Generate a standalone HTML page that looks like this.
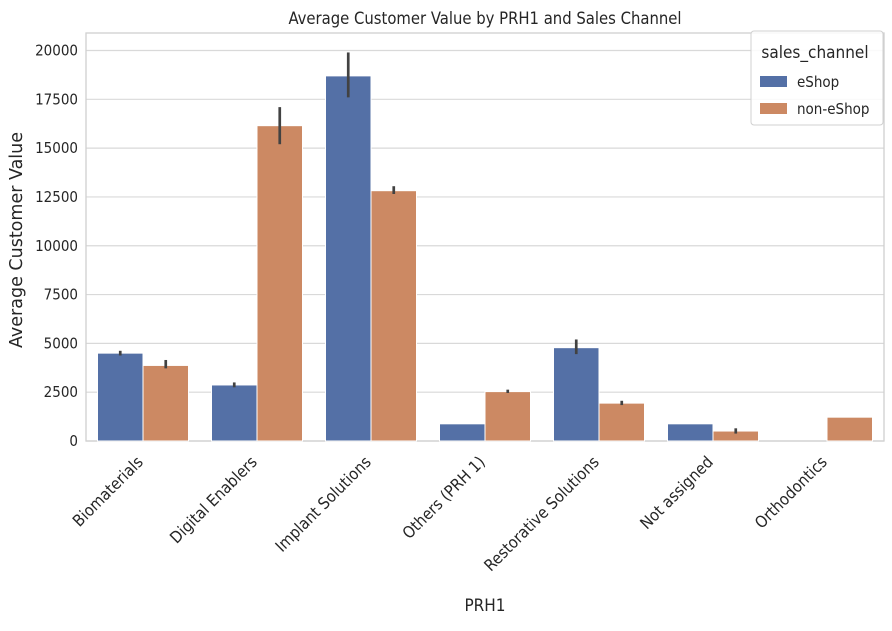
<!DOCTYPE html>
<html><head><meta charset="utf-8"><style>
body{margin:0;background:#fff;}
svg text{font-family:"DejaVu Sans Condensed","Liberation Sans Narrow","Liberation Sans",sans-serif;fill:#262626;}
</style></head><body>
<svg id="chart" width="892" height="626" xmlns="http://www.w3.org/2000/svg"></svg>
<script>
const categories=["Biomaterials","Digital Enablers","Implant Solutions","Others (PRH 1)","Restorative Solutions","Not assigned","Orthodontics"];
const eshopValues=[4500,2870,18700,880,4780,880,0];
const eshopLow=[4380,2750,17600,880,4450,880,0];
const eshopHigh=[4620,3000,19900,880,5200,880,0];
const nonValues=[3870,16150,12820,2530,1940,510,1220];
const nonLow=[3720,15200,12650,2460,1840,380,1220];
const nonHigh=[4150,17100,13050,2630,2060,650,1220];
const yTicks=[0,2500,5000,7500,10000,12500,15000,17500,20000];
const L=86,R=884,T=33,B=441;
const ns="http://www.w3.org/2000/svg";
const svg=document.getElementById('chart');
function y(v){return B-(v/20000)*390.5;}
const band=(R-L)/categories.length;
function x(i){return L+band*i+band/2;}
function mk(t,a,p){const e=document.createElementNS(ns,t);for(const k in a)e.setAttribute(k,a[k]);(p||svg).appendChild(e);return e;}
yTicks.forEach(v=>{
 const g=mk('line',{x1:L,x2:R,y1:y(v),y2:y(v),stroke:'#d9d9d9','stroke-width':1.2});
 
 
 const t=mk('text',{x:L-8,y:y(v)+5,'text-anchor':'end','font-size':15});
 t.textContent=v;
 
 
});
const frame=mk('rect',{x:L,y:T,width:R-L,height:B-T,fill:'none',stroke:'#d0d0d0','stroke-width':1.3});


const bw=45.5;
function bar(i,v,lo,hi,dx,color,name){
 const r=mk('rect',{x:x(i)+dx,y:y(v),width:bw,height:B-y(v),fill:color,stroke:'#fff','stroke-width':1});
 
 
 if(hi>lo){const e=mk('line',{x1:x(i)+dx+bw/2,x2:x(i)+dx+bw/2,y1:y(lo),y2:y(hi),stroke:'#424242','stroke-width':2.7});
 
 }
}
categories.forEach((c,i)=>{
 bar(i,eshopValues[i],eshopLow[i],eshopHigh[i],-bw,'#5470a6','bar-eshop');
 bar(i,nonValues[i],nonLow[i],nonHigh[i],0,'#cc8963','bar-non-eshop');
 const t=mk('text',{transform:`translate(${x(i)+1},${B+22}) rotate(-45)`,'text-anchor':'end','font-size':16.2});
 t.textContent=c;
 
 
});
</script>
<svg style="position:absolute;left:0;top:0" width="892" height="626" xmlns="http://www.w3.org/2000/svg">
<text x="485" y="24" text-anchor="middle" font-size="16.5">Average Customer Value by PRH1 and Sales Channel</text>
<text transform="translate(22,240) rotate(-90)" text-anchor="middle" font-size="17.5" style="font-family:'DejaVu Sans',sans-serif">Average Customer Value</text>
<text x="485" y="611" text-anchor="middle" font-size="17">PRH1</text>
<g>
<rect x="751" y="31" width="132" height="94" rx="3" fill="#fff" fill-opacity="0.85" stroke="#d0d0d0"/>
<text x="815" y="58" text-anchor="middle" font-size="17">sales_channel</text>
<rect x="760" y="76" width="27" height="11" fill="#5470a6"/>
<text x="797" y="87" font-size="15">eShop</text>
<rect x="760" y="103" width="27" height="11" fill="#cc8963"/>
<text x="797" y="114" font-size="15">non-eShop</text>
</g>
</svg>
</body></html>
